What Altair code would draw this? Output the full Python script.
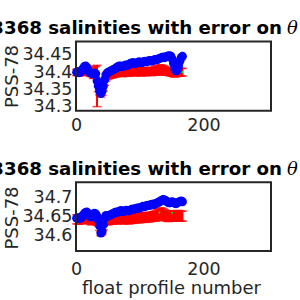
import altair as alt
import pandas as pd

# ---------------- data ----------------
PROFILES = [1, 3, 5, 7, 9, 11, 13, 15, 17, 19, 21, 23, 25, 27, 29, 31, 33, 35, 37, 39,
            41, 43, 45, 47, 49, 51, 53, 55, 57, 59, 61, 63, 65, 67, 69, 71, 73, 75, 77, 79,
            81, 83, 85, 87, 89, 91, 93, 95, 97, 99, 101, 103, 105, 107, 109, 111, 113, 115, 117, 119,
            121, 123, 125, 127, 129, 131, 133, 135, 137, 139, 141, 143, 145, 147, 149, 151, 153, 155, 157, 159,
            161, 163, 165, 167]

TOP_BLUE = [34.400, 34.402, 34.398, 34.400, 34.405, 34.410, 34.416, 34.418, 34.414, 34.405,
            34.400, 34.398, 34.396, 34.395, 34.397, 34.396, 34.375, 34.360, 34.345, 34.338,
            34.345, 34.360, 34.378, 34.392, 34.398, 34.400, 34.402, 34.404, 34.406, 34.408,
            34.410, 34.412, 34.415, 34.417, 34.418, 34.417, 34.416, 34.418, 34.420, 34.421,
            34.420, 34.422, 34.425, 34.426, 34.428, 34.426, 34.425, 34.427, 34.428, 34.430,
            34.428, 34.427, 34.429, 34.431, 34.432, 34.430, 34.432, 34.434, 34.433, 34.432,
            34.434, 34.436, 34.437, 34.436, 34.438, 34.440, 34.441, 34.443, 34.444, 34.442,
            34.444, 34.446, 34.447, 34.448, 34.446, 34.438, 34.425, 34.410, 34.404, 34.406,
            34.418, 34.432, 34.442, 34.446]

TOP_RED = [34.399, 34.400, 34.398, 34.399, 34.401, 34.403, 34.405, 34.406, 34.404, 34.400,
           34.398, 34.397, 34.396, 34.398, 34.400, 34.401, 34.360, 34.352, 34.342, 34.336,
           34.341, 34.354, 34.370, 34.385, 34.390, 34.392, 34.393, 34.394, 34.395, 34.396,
           34.397, 34.398, 34.399, 34.400, 34.400, 34.399, 34.398, 34.399, 34.400, 34.400,
           34.399, 34.400, 34.402, 34.402, 34.403, 34.401, 34.400, 34.401, 34.402, 34.403,
           34.401, 34.400, 34.401, 34.402, 34.403, 34.401, 34.402, 34.403, 34.402, 34.401,
           34.402, 34.404, 34.405, 34.404, 34.406, 34.408, 34.408, 34.407, 34.406, 34.404,
           34.403, 34.403, 34.402, 34.401, 34.400, 34.399, 34.398, 34.397, 34.398, 34.399,
           34.400, 34.400, 34.400, 34.400]

TOP_ERR = [0.009, 0.009, 0.009, 0.009, 0.009, 0.009, 0.009, 0.009, 0.009, 0.009,
           0.009, 0.009, 0.009, 0.016, 0.018, 0.015, 0.060, 0.008, 0.008, 0.008,
           0.008, 0.008, 0.008, 0.011, 0.011, 0.011, 0.011, 0.011, 0.011, 0.011,
           0.011, 0.011, 0.011, 0.011, 0.011, 0.011, 0.011, 0.011, 0.011, 0.011,
           0.011, 0.011, 0.011, 0.011, 0.011, 0.011, 0.011, 0.011, 0.011, 0.011,
           0.011, 0.011, 0.011, 0.011, 0.011, 0.011, 0.011, 0.011, 0.011, 0.011,
           0.011, 0.011, 0.013, 0.013, 0.013, 0.013, 0.013, 0.013, 0.013, 0.013,
           0.011, 0.011, 0.011, 0.011, 0.011, 0.011, 0.011, 0.011, 0.011, 0.011,
           0.011, 0.011, 0.011, 0.011]

BOT_BLUE = [34.645, 34.646, 34.644, 34.645, 34.648, 34.652, 34.657, 34.660, 34.661, 34.658,
            34.652, 34.648, 34.650, 34.655, 34.658, 34.656, 34.650, 34.640, 34.625, 34.606,
            34.610, 34.628, 34.645, 34.652, 34.650, 34.651, 34.653, 34.655, 34.656, 34.658,
            34.660, 34.661, 34.660, 34.662, 34.664, 34.665, 34.663, 34.662, 34.664, 34.666,
            34.665, 34.664, 34.666, 34.668, 34.669, 34.668, 34.670, 34.671, 34.672, 34.671,
            34.673, 34.674, 34.676, 34.675, 34.676, 34.678, 34.679, 34.678, 34.680, 34.681,
            34.682, 34.681, 34.683, 34.685, 34.686, 34.688, 34.690, 34.692, 34.694, 34.693,
            34.691, 34.688, 34.686, 34.685, 34.687, 34.688, 34.686, 34.684, 34.683, 34.685,
            34.687, 34.689, 34.690, 34.688]

BOT_RED = [34.642, 34.642, 34.641, 34.642, 34.643, 34.644, 34.645, 34.646, 34.646, 34.644,
           34.642, 34.640, 34.640, 34.641, 34.642, 34.641, 34.638, 34.630, 34.618, 34.604,
           34.607, 34.620, 34.635, 34.640, 34.640, 34.640, 34.641, 34.641, 34.642, 34.642,
           34.643, 34.643, 34.642, 34.643, 34.644, 34.644, 34.643, 34.642, 34.643, 34.644,
           34.643, 34.642, 34.643, 34.644, 34.645, 34.644, 34.645, 34.645, 34.646, 34.645,
           34.646, 34.646, 34.647, 34.646, 34.647, 34.648, 34.648, 34.647, 34.648, 34.649,
           34.650, 34.650, 34.651, 34.653, 34.655, 34.657, 34.658, 34.657, 34.655, 34.653,
           34.651, 34.650, 34.649, 34.650, 34.651, 34.651, 34.650, 34.650, 34.651, 34.652,
           34.652, 34.651, 34.651, 34.650]

BOT_ERR = [0.012, 0.012, 0.012, 0.012, 0.012, 0.012, 0.012, 0.012, 0.012, 0.012,
           0.012, 0.012, 0.012, 0.012, 0.012, 0.012, 0.012, 0.005, 0.005, 0.005,
           0.005, 0.005, 0.005, 0.012, 0.012, 0.012, 0.012, 0.012, 0.012, 0.012,
           0.012, 0.012, 0.012, 0.012, 0.012, 0.012, 0.012, 0.012, 0.012, 0.012,
           0.012, 0.012, 0.012, 0.012, 0.012, 0.012, 0.012, 0.012, 0.012, 0.012,
           0.012, 0.012, 0.012, 0.012, 0.012, 0.012, 0.012, 0.012, 0.012, 0.012,
           0.012, 0.012, 0.014, 0.014, 0.014, 0.014, 0.014, 0.014, 0.014, 0.014,
           0.013, 0.013, 0.013, 0.013, 0.013, 0.013, 0.013, 0.013, 0.013, 0.013,
           0.013, 0.013, 0.013, 0.013]

GREEN_TOP_P = [167]
GREEN_TOP_S = [34.400]
GREEN_TOP_E = [0.003]
GREEN_BOT_P = [131, 151]
GREEN_BOT_S = [34.660, 34.659]
GREEN_BOT_E = [0.002, 0.002]

X_LIM = [0, 306]
X_TICKS = [0, 200]
TOP_LIM = [34.288, 34.489]
TOP_TICKS = [34.3, 34.35, 34.4, 34.45]
BOT_LIM = [34.559, 34.739]
BOT_TICKS = [34.6, 34.65, 34.7]

TITLE_MAIN = "6903368 salinities with error on"
TITLE_SYM = "θ"
Y_TITLE = "PSS-78"
X_TITLE = "float profile number"

FONT = "DejaVu Sans"
INK = "#262626"

# ---------------- layout ----------------
W, H = 300, 300
PX = [76, 271]
TOP_PY = [110.8, 41.5]
BOT_PY = [251.0, 182.3]


def panel(blue, red, err, gp, gs, ge, ylim, yticks, py, ytitle_y, show_xtitle, xlab_pad):
    df = pd.DataFrame({"p": PROFILES, "blue": blue, "red": red, "err": err})
    gdf = pd.DataFrame({"p": gp, "s": gs, "e": ge})
    fdf = pd.DataFrame({"x0": [X_LIM[0]], "x1": [X_LIM[1]], "y0": [ylim[0]], "y1": [ylim[1]]})

    xs = alt.Scale(domain=X_LIM, range=PX, nice=False, zero=False)
    ys = alt.Scale(domain=ylim, range=py, nice=False, zero=False)

    xaxis_kw = dict(orient="bottom", offset=py[0] - H, values=X_TICKS, domain=False, ticks=False,
                    grid=False, labelFont=FONT, labelFontSize=17.5, labelColor=INK,
                    labelPadding=xlab_pad, labelFlush=False, labelOverlap=False, format="d")
    if show_xtitle:
        xaxis_kw.update(titleFont=FONT, titleFontSize=18, titleFontWeight="normal", titleColor=INK,
                        titleX=171, titleY=293 - py[0], titleBaseline="alphabetic", titleAlign="center")
    xaxis = alt.Axis(**xaxis_kw)
    yaxis = alt.Axis(orient="left", offset=-PX[0], values=yticks, domain=False, ticks=False, grid=False,
                     labelFont=FONT, labelFontSize=17.5, labelColor=INK, labelPadding=4,
                     labelFlush=False, labelOverlap=False,
                     labelExpr="format(datum.value, '.2~f')",
                     titleFont=FONT, titleFontSize=18, titleFontWeight="normal", titleColor=INK,
                     titleAngle=270, titleX=17 - PX[0], titleY=ytitle_y,
                     titleBaseline="alphabetic", titleAlign="center")
    xt = X_TITLE if show_xtitle else None

    def X(f):
        return alt.X(f, type="quantitative", scale=xs, axis=xaxis, title=xt)

    def Y(f):
        return alt.Y(f, type="quantitative", scale=ys, axis=yaxis, title=Y_TITLE)

    base = alt.Chart(df).transform_calculate(lo="datum.red - datum.err", hi="datum.red + datum.err")
    frame = alt.Chart(fdf).mark_rect(fillOpacity=0, stroke=INK, strokeWidth=2).encode(
        x=X("x0"), x2="x1", y=Y("y0"), y2="y1")
    rline = base.mark_line(color="#ff0000", strokeWidth=1.5).encode(x=X("p"), y=Y("red"))
    rbar = base.mark_rule(color="#ff0000", strokeWidth=2).encode(x=X("p"), y=Y("lo"), y2="hi")
    rcap1 = base.mark_tick(color="#ff0000", orient="horizontal", size=9, thickness=1.5).encode(x=X("p"), y=Y("lo"))
    rcap2 = base.mark_tick(color="#ff0000", orient="horizontal", size=9, thickness=1.5).encode(x=X("p"), y=Y("hi"))
    gbase = alt.Chart(gdf).transform_calculate(lo="datum.s - datum.e", hi="datum.s + datum.e")
    gbar = gbase.mark_rule(color="#00ff00", strokeWidth=1.5).encode(x=X("p"), y=Y("lo"), y2="hi")
    blue_pts = alt.Chart(df).mark_circle(color="#0000ff", size=80, opacity=1).encode(x=X("p"), y=Y("blue"))
    return alt.layer(rline, rbar, rcap1, rcap2, gbar, blue_pts, frame)


top = panel(TOP_BLUE, TOP_RED, TOP_ERR, GREEN_TOP_P, GREEN_TOP_S, GREEN_TOP_E,
            TOP_LIM, TOP_TICKS, TOP_PY, 76, False, 6)
bot = panel(BOT_BLUE, BOT_RED, BOT_ERR, GREEN_BOT_P, GREEN_BOT_S, GREEN_BOT_E,
            BOT_LIM, BOT_TICKS, BOT_PY, 217.5, True, 9)

one = pd.DataFrame({"k": [0]})


def title_marks(baseline_y):
    main = alt.Chart(one).mark_text(text=TITLE_MAIN, align="right", baseline="alphabetic", font=FONT,
                                    fontWeight="bold", fontSize=18.2, color="black").encode(
        x=alt.value(282), y=alt.value(baseline_y))
    sym = alt.Chart(one).mark_text(text=TITLE_SYM, align="left", baseline="alphabetic", font="DejaVu Serif",
                                   fontStyle="italic", fontSize=18, color="black").encode(
        x=alt.value(287), y=alt.value(baseline_y))
    return [main, sym]


chart = alt.layer(top, bot, *title_marks(33.5), *title_marks(175)).resolve_scale(
    x="independent", y="independent"
).properties(
    width=W, height=H, padding=0,
    autosize=alt.AutoSizeParams(type="none"),
).configure_view(strokeWidth=0)

chart.save("out.html", embed_options={"renderer": "svg", "actions": False})
